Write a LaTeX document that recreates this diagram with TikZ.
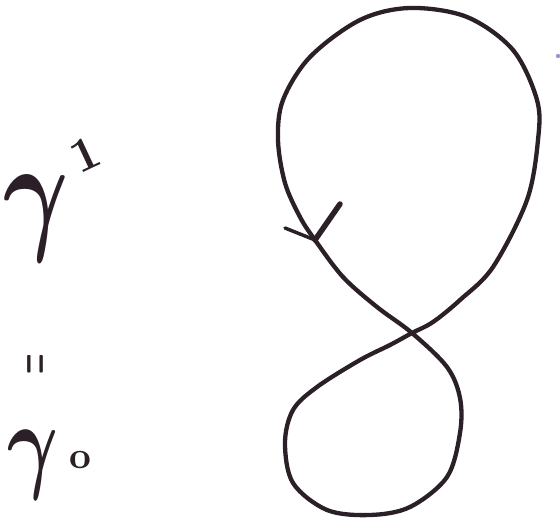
\documentclass[tikz,border=0pt]{standalone}
\usepackage{graphicx}
\begin{document}
\begin{tikzpicture}[x=1pt,y=-1pt,
  ink/.style={draw=inkc,line width=4.3pt,line cap=round,line join=round},
  glyph/.style={text=inkc,inner sep=0pt,outer sep=0pt}]
\definecolor{inkc}{HTML}{2B2028}
\useasboundingbox (0,0) rectangle (560,521);
% figure-eight curve
\draw[ink] plot[smooth cycle,tension=0.55] coordinates {
 (412,333) (447,367) (460,398) (460,433) (447,477) (410,507) (370,515)
 (327,510) (293,483) (285,443) (293,410) (317,387) (360,360) (390,345)
 (412,333) (433,322) (460,300) (493,267) (527,200) (538,140) (537,100)
 (513,50) (467,17) (410,8) (360,20) (310,57) (283,100) (278,140)
 (285,183) (300,217) (315,240) (343,277) (377,307)};
% arrowhead
\coordinate (v) at (315,240);
\coordinate (a1) at (285,228);
\coordinate (a2) at (340,204);
\draw[ink,line width=3.5pt] (a1) -- (v);
\draw[ink,line width=5.5pt] (a2) -- (v);
% stray dot
\fill[fill=blue!35!gray,opacity=0.6] (558,56) circle (2.2);
% labels
\node[glyph] (g1) at (36,219) {\scalebox{10}[13.5]{\boldmath$\gamma$}};
\node[glyph] (s1) at (85,154) {\rotatebox{25}{\scalebox{4.8}{\textbf{1}}}};
\node[glyph] (eq) at (38,364) {\rotatebox{90}{\scalebox{2.3}[5.5]{\textbf{=}}}};
\node[glyph] (g0) at (33,465) {\scalebox{7.8}[10.8]{\boldmath$\gamma$}};
\node[glyph] (s0) at (80,460) {\scalebox{3.8}{\textbf{o}}};
\end{tikzpicture}
\end{document}
